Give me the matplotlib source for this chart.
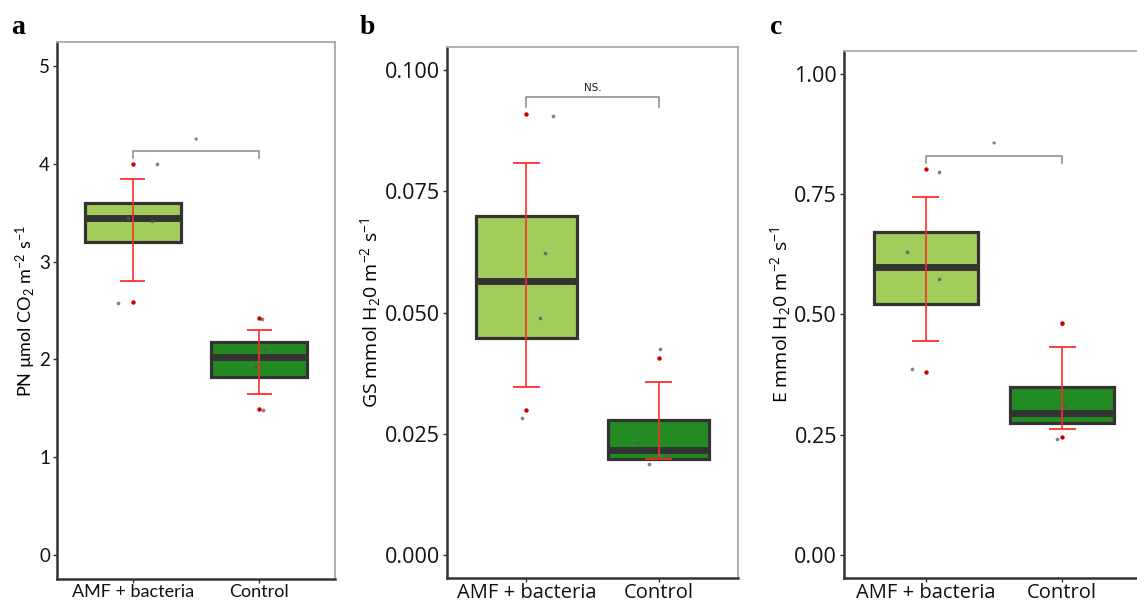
import matplotlib
matplotlib.use("Agg")
import matplotlib.pyplot as plt
import numpy as np

plt.rcParams["mathtext.default"] = "regular"

groups = ["AMF + bacteria", "Control"]
fills = ["#a3cd5a", "#228b22"]

# panel a: PN
pn_q1 = [3.20, 1.82]
pn_med = [3.45, 2.02]
pn_q3 = [3.60, 2.18]
pn_err_lo = [2.80, 1.65]
pn_err_hi = [3.85, 2.30]
pn_pts = [[4.00, 3.45, 3.42, 2.58], [2.41, 2.11, 1.93, 1.48]]
pn_jit = [[0.19, -0.04, 0.15, -0.12], [0.02, 0.05, -0.03, 0.03]]
pn_out = [[4.00, 2.59], [2.42, 1.49]]

# panel b: GS
gs_q1 = [0.0448, 0.0198]
gs_med = [0.0566, 0.0217]
gs_q3 = [0.0700, 0.0279]
gs_err_lo = [0.0347, 0.0198]
gs_err_hi = [0.0808, 0.0357]
gs_pts = [[0.0905, 0.0622, 0.0488, 0.0283], [0.0424, 0.0232, 0.0205, 0.0188]]
gs_jit = [[0.20, 0.14, 0.10, -0.03], [0.01, -0.16, 0.08, -0.07]]
gs_out = [[0.0909, 0.0298], [0.0407]]

# panel c: E
e_q1 = [0.521, 0.275]
e_med = [0.598, 0.296]
e_q3 = [0.671, 0.350]
e_err_lo = [0.444, 0.262]
e_err_hi = [0.744, 0.433]
e_pts = [[0.796, 0.629, 0.573, 0.3875], [0.481, 0.308, 0.285, 0.242]]
e_jit = [[0.10, -0.14, 0.10, -0.10], [0.0, 0.01, 0.0, -0.04]]
e_out = [[0.802, 0.381], [0.483, 0.246]]

# significance brackets: (bar y, tick bottom, label y, label)
pn_sig = (4.13, 4.06, 4.23, "*")
gs_sig = (0.0944, 0.0924, 0.0963, "NS.")
e_sig = (0.829, 0.815, 0.852, "*")

fig = plt.figure(figsize=(11.37, 6.03), dpi=100)


def panel(rect, q1, med, q3, lo, hi, pts, jit, outs, sig, ylim, yticks, ylabs,
          ylabel, font, fs, xfs, lfs, letter, letter_xy, right_spine=True):
    ax = fig.add_axes(rect)
    x = np.arange(1, len(groups) + 1)
    stats = []
    for i in range(len(groups)):
        stats.append(dict(med=med[i], q1=q1[i], q3=q3[i],
                          whislo=q1[i], whishi=q3[i], fliers=[]))
    bp = ax.bxp(stats, positions=x, widths=0.76, patch_artist=True,
                showcaps=False, manage_ticks=False,
                boxprops=dict(edgecolor="#333333", linewidth=2.3),
                medianprops=dict(color="#333333", linewidth=5, solid_capstyle="butt"),
                whiskerprops=dict(linewidth=0))
    for patch, c in zip(bp["boxes"], fills):
        patch.set_facecolor(c)
    for i in range(len(groups)):
        ax.scatter(x[i] + np.array(jit[i]), pts[i], s=7, color="#555555",
                   alpha=0.75, zorder=4, linewidths=0)
        ax.scatter(np.full(len(outs[i]), x[i]), outs[i], s=10, color="#cc0000",
                   zorder=4, linewidths=0)
    ax.vlines(x, lo, hi, color="#ff2a2a", linewidth=1.3, zorder=5, alpha=0.9)
    ax.hlines(lo, x - 0.1, x + 0.1, color="#ff2a2a", linewidth=1.4, zorder=5, alpha=0.9)
    ax.hlines(hi, x - 0.1, x + 0.1, color="#ff2a2a", linewidth=1.4, zorder=5, alpha=0.9)
    ax.plot([x[0], x[0], x[1], x[1]], [sig[1], sig[0], sig[0], sig[1]],
            color="#888888", linewidth=1.1)
    if sig[3] == "*":
        ax.text(x.mean(), sig[2], sig[3], ha="center", va="center",
                fontsize=6, color="#333333")
    else:
        ax.text(x.mean(), sig[2], sig[3], ha="center", va="center",
                fontsize=7.5, color="#222222", family="DejaVu Sans")
    ax.set_xlim(0.4, 2.6)
    ax.set_ylim(*ylim)
    ax.set_xticks(x)
    ax.set_xticklabels(groups, family=font, fontsize=xfs, color="#111111")
    ax.set_yticks(yticks)
    ax.set_yticklabels(ylabs, family=font, fontsize=fs, color="#111111")
    ax.tick_params(length=3, width=1, color="#333333", pad=2)
    ax.tick_params(axis="x", pad=0.5)
    ax.set_ylabel(ylabel, family=font, fontsize=lfs, labelpad=1)
    for s in ["left", "bottom"]:
        ax.spines[s].set_color("#333333")
        ax.spines[s].set_linewidth(1.8)
    ax.spines["top"].set_color("#aaaaaa")
    ax.spines["top"].set_linewidth(1.3)
    ax.spines["right"].set_color("#aaaaaa")
    ax.spines["right"].set_linewidth(1.3)
    ax.spines["right"].set_visible(right_spine)
    fig.text(letter_xy[0], letter_xy[1], letter, family="Liberation Serif",
             fontweight="bold", fontsize=20, ha="left", va="center")
    return ax


panel([0.0501, 0.0398, 0.2445, 0.8905], pn_q1, pn_med, pn_q3, pn_err_lo, pn_err_hi,
      pn_pts, pn_jit, pn_out, pn_sig, (-0.25, 5.25), [0, 1, 2, 3, 4, 5],
      ["0", "1", "2", "3", "4", "5"],
      r"PN µmol CO$_2$ m$^{-2}$ s$^{-1}$", "Lato", 13.5, 13, 13, "a", (0.010, 0.955))

panel([0.3931, 0.0415, 0.2559, 0.8805], gs_q1, gs_med, gs_q3, gs_err_lo, gs_err_hi,
      gs_pts, gs_jit, gs_out, gs_sig, (-0.0048, 0.1048),
      [0, 0.025, 0.05, 0.075, 0.1], ["0.000", "0.025", "0.050", "0.075", "0.100"],
      r"GS mmol H$_2$0 m$^{-2}$ s$^{-1}$", "Open Sans", 15.5, 14.5, 14, "b", (0.316, 0.955))

panel([0.7423, 0.0415, 0.2639, 0.8739], e_q1, e_med, e_q3, e_err_lo, e_err_hi,
      e_pts, e_jit, e_out, e_sig, (-0.048, 1.048),
      [0, 0.25, 0.5, 0.75, 1.0], ["0.00", "0.25", "0.50", "0.75", "1.00"],
      r"E mmol H$_2$0 m$^{-2}$ s$^{-1}$", "Open Sans", 15.5, 14.5, 14, "c", (0.677, 0.955),
      right_spine=False)

fig.savefig("out.png", dpi=100)
